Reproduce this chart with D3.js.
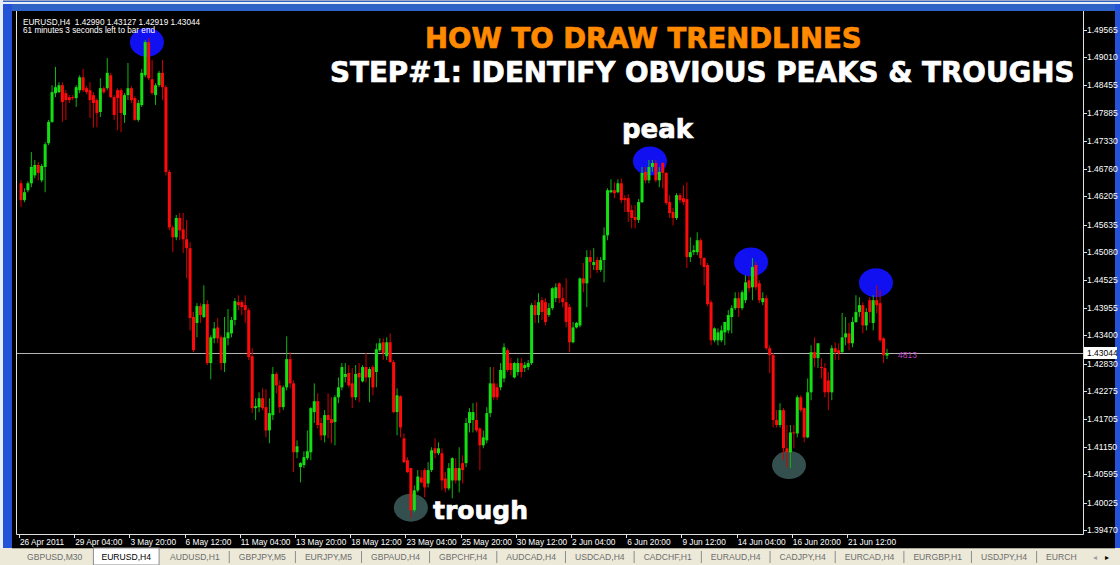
<!DOCTYPE html>
<html>
<head>
<meta charset="utf-8">
<script src="https://cdn.jsdelivr.net/npm/d3@7"></script>
<style>
  body { margin: 0; background: #ece9d8; }
  svg { display: block; }
</style>
</head>
<body>
<div id="viz"></div>
<script>
// EURUSD H4 bars (26 Apr - 23 Jun 2011)
var opens = [
  1.4647,1.4613,1.4633,1.4647,1.4663,1.4684,1.4653,1.4680,1.4728,1.4771,
  1.4829,1.4831,1.4845,1.4829,1.4821,1.4821,1.4819,1.4835,1.4861,1.4839,
  1.4835,1.4825,1.4815,1.4791,1.4839,1.4839,1.4865,1.4821,1.4835,1.4835,
  1.4785,1.4825,1.4839,1.4819,1.4775,1.4805,1.4865,1.4932,1.4857,1.4825,
  1.4845,1.4870,1.4841,
  1.4670,1.4558,1.4538,1.4577,1.4554,1.4534,1.4516,1.4377,1.4365,1.4399,
  1.4377,1.4403,1.4284,1.4334,1.4356,1.4336,1.4284,1.4334,1.4344,1.4371,
  1.4407,1.4407,1.4401,1.4391,1.4298,1.4193,1.4195,1.4213,1.4195,1.4148,
  1.4179,1.4262,1.4239,1.4195,1.4235,1.4292,1.4243,1.4104,1.4074,1.4078,
  1.4092,1.4104,1.4185,1.4207,1.4163,1.4138,1.4179,1.4171,1.4165,1.4215,
  1.4235,1.4256,1.4264,1.4243,1.4215,1.4264,1.4247,1.4276,1.4255,1.4276,
  1.4266,1.4310,1.4326,1.4298,1.4326,1.4286,1.4185,1.4217,1.4132,1.4088,
  1.4072,1.3987,1.4027,1.4053,1.4068,1.4041,1.4068,1.4112,1.4102,1.4102,
  1.4051,1.4031,1.4047,1.4072,1.4047,1.4082,1.4082,1.4163,1.4169,1.4169,
  1.4152,1.4118,1.4128,1.4183,1.4243,1.4235,1.4235,1.4253,1.4310,1.4284,
  1.4255,1.4266,1.4284,1.4274,1.4276,1.4284,1.4401,1.4381,1.4411,1.4407,
  1.4381,1.4395,1.4415,1.4445,1.4415,1.4407,1.4397,1.4326,1.4356,1.4360,
  1.4455,1.4445,1.4498,1.4482,1.4492,
  1.4472,1.4492,1.4542,1.4629,1.4633,1.4629,1.4647,1.4617,1.4617,1.4593,
  1.4579,1.4573,1.4609,1.4670,1.4653,1.4680,1.4688,1.4653,1.4688,1.4668,
  1.4609,1.4589,1.4577,1.4623,1.4617,1.4615,1.4498,1.4508,1.4508,1.4532,
  1.4496,1.4482,1.4407,1.4330,1.4330,1.4330,1.4346,1.4350,1.4377,1.4395,
  1.4415,1.4395,1.4411,1.4451,1.4437,1.4482,1.4445,1.4407,1.4415,1.4314,
  1.4300,1.4169,1.4159,1.4189,1.4112,1.4104,1.4144,1.4142,1.4215,1.4193,
  1.4134,1.4225,1.4306,1.4294,1.4276,1.4274,1.4249,1.4225,1.4314,1.4310,
  1.4306,1.4336,1.4344,1.4324,1.4367,1.4387,1.4401,1.4360,1.4411,1.4365,
  1.4411,1.4405,1.4334,1.42990
];
var highs = [
  1.4653,1.4637,1.4651,1.4710,1.4694,1.4690,1.4686,1.4730,1.4775,1.4845,
  1.4882,1.4851,1.4851,1.4835,1.4825,1.4825,1.4845,1.4865,1.4878,1.4843,
  1.4851,1.4831,1.4819,1.4859,1.4843,1.4900,1.4870,1.4825,1.4839,1.4839,
  1.4829,1.4890,1.4843,1.4823,1.4815,1.4878,1.4936,1.4940,1.4896,1.4849,
  1.4874,1.4896,1.4845,
  1.4674,1.4562,1.4583,1.4587,1.4587,1.4573,1.4528,1.4387,1.4405,1.4405,
  1.4441,1.4411,1.4340,1.4367,1.4375,1.4340,1.4377,1.4393,1.4377,1.4415,
  1.4421,1.4411,1.4421,1.4395,1.4314,1.4213,1.4225,1.4233,1.4231,1.4213,
  1.4276,1.4266,1.4249,1.4239,1.4338,1.4306,1.4249,1.4128,1.4084,1.4106,
  1.4148,1.4195,1.4243,1.4223,1.4173,1.4189,1.4223,1.4215,1.4219,1.4255,
  1.4284,1.4284,1.4280,1.4274,1.4280,1.4284,1.4280,1.4304,1.4276,1.4280,
  1.4324,1.4334,1.4334,1.4336,1.4344,1.4290,1.4233,1.4219,1.4142,1.4094,
  1.4072,1.4037,1.4068,1.4068,1.4072,1.4084,1.4114,1.4132,1.4124,1.4112,
  1.4064,1.4082,1.4094,1.4092,1.4114,1.4098,1.4173,1.4193,1.4203,1.4205,
  1.4154,1.4148,1.4195,1.4276,1.4276,1.4243,1.4284,1.4324,1.4314,1.4294,
  1.4286,1.4294,1.4294,1.4286,1.4290,1.4405,1.4411,1.4425,1.4417,1.4415,
  1.4405,1.4437,1.4445,1.4447,1.4437,1.4455,1.4403,1.4367,1.4367,1.4457,
  1.4486,1.4512,1.4512,1.4516,1.4498,
  1.4498,1.4558,1.4637,1.4655,1.4649,1.4655,1.4657,1.4623,1.4625,1.4603,
  1.4603,1.4615,1.4680,1.4680,1.4694,1.4694,1.4694,1.4680,1.4690,1.4670,
  1.4623,1.4597,1.4627,1.4627,1.4643,1.4649,1.4538,1.4522,1.4548,1.4536,
  1.4498,1.4486,1.4411,1.4356,1.4354,1.4360,1.4367,1.4391,1.4401,1.4427,
  1.4427,1.4431,1.4461,1.4461,1.4496,1.4488,1.4451,1.4427,1.4421,1.4320,
  1.4304,1.4189,1.4203,1.4193,1.4159,1.4159,1.4159,1.4219,1.4219,1.4195,
  1.4253,1.4320,1.4336,1.4324,1.4294,1.4284,1.4266,1.4320,1.4326,1.4324,
  1.4385,1.4377,1.4365,1.4377,1.4421,1.4417,1.4407,1.4395,1.4417,1.4421,
  1.4441,1.4431,1.4336,1.43127
];
var lows = [
  1.4599,1.4609,1.4629,1.4639,1.4657,1.4653,1.4649,1.4629,1.4724,1.4769,
  1.4821,1.4829,1.4771,1.4775,1.4809,1.4815,1.4801,1.4829,1.4831,1.4827,
  1.4779,1.4760,1.4760,1.4781,1.4827,1.4835,1.4819,1.4775,1.4754,1.4750,
  1.4769,1.4815,1.4809,1.4773,1.4771,1.4801,1.4861,1.4855,1.4825,1.4805,
  1.4841,1.4815,1.4663,
  1.4552,1.4508,1.4532,1.4532,1.4506,1.4455,1.4350,1.4306,1.4336,1.4365,
  1.4375,1.4280,1.4251,1.4324,1.4324,1.4270,1.4266,1.4320,1.4336,1.4360,
  1.4391,1.4381,1.4365,1.4290,1.4183,1.4169,1.4185,1.4189,1.4134,1.4122,
  1.4169,1.4223,1.4183,1.4189,1.4229,1.4233,1.4064,1.4092,1.4043,1.4072,
  1.4088,1.4088,1.4163,1.4152,1.4128,1.4124,1.4132,1.4122,1.4118,1.4203,
  1.4229,1.4245,1.4235,1.4193,1.4209,1.4205,1.4245,1.4245,1.4205,1.4219,
  1.4235,1.4306,1.4290,1.4290,1.4284,1.4183,1.4138,1.4134,1.4082,1.4062,
  1.3971,1.3983,1.4023,1.4041,1.4013,1.4033,1.4064,1.4092,1.4098,1.4027,
  1.4023,1.4027,1.4011,1.4041,1.4023,1.4041,1.4074,1.4144,1.4144,1.4144,
  1.4068,1.4112,1.4122,1.4175,1.4209,1.4209,1.4229,1.4245,1.4266,1.4259,
  1.4253,1.4259,1.4255,1.4266,1.4270,1.4280,1.4365,1.4365,1.4371,1.4360,
  1.4377,1.4391,1.4407,1.4405,1.4397,1.4356,1.4306,1.4324,1.4354,1.4356,
  1.4427,1.4397,1.4455,1.4472,1.4466,
  1.4468,1.4447,1.4532,1.4627,1.4617,1.4627,1.4607,1.4589,1.4569,1.4556,
  1.4556,1.4567,1.4607,1.4647,1.4647,1.4670,1.4649,1.4639,1.4637,1.4603,
  1.4577,1.4562,1.4573,1.4607,1.4603,1.4476,1.4488,1.4502,1.4502,1.4482,
  1.4441,1.4399,1.4320,1.4326,1.4320,1.4326,1.4320,1.4344,1.4344,1.4391,
  1.4377,1.4391,1.4405,1.4427,1.4411,1.4431,1.4405,1.4401,1.4310,1.4264,
  1.4154,1.4154,1.4154,1.4088,1.4074,1.4072,1.4112,1.4134,1.4185,1.4124,
  1.4132,1.4209,1.4276,1.4274,1.4253,1.4215,1.4189,1.4209,1.4290,1.4290,
  1.4304,1.4320,1.4310,1.4316,1.4365,1.4377,1.4344,1.4350,1.4365,1.4350,
  1.4385,1.4326,1.4284,1.42919
];
var closes = [
  1.4613,1.4629,1.4647,1.4680,1.4684,1.4668,1.4682,1.4726,1.4771,1.4831,
  1.4841,1.4845,1.4811,1.4815,1.4815,1.4819,1.4841,1.4861,1.4835,1.4831,
  1.4815,1.4809,1.4789,1.4839,1.4831,1.4870,1.4821,1.4785,1.4819,1.4789,
  1.4825,1.4839,1.4815,1.4775,1.4809,1.4870,1.4932,1.4859,1.4829,1.4845,
  1.4870,1.4841,1.4670,
  1.4558,1.4538,1.4577,1.4552,1.4534,1.4516,1.4375,1.4310,1.4399,1.4381,
  1.4403,1.4284,1.4336,1.4354,1.4334,1.4284,1.4336,1.4346,1.4371,1.4409,
  1.4401,1.4397,1.4391,1.4296,1.4193,1.4197,1.4213,1.4193,1.4148,1.4183,
  1.4262,1.4239,1.4195,1.4235,1.4292,1.4243,1.4104,1.4116,1.4082,1.4094,
  1.4106,1.4193,1.4207,1.4159,1.4138,1.4179,1.4169,1.4163,1.4215,1.4235,
  1.4276,1.4262,1.4239,1.4215,1.4262,1.4255,1.4276,1.4255,1.4272,1.4235,
  1.4312,1.4324,1.4304,1.4326,1.4286,1.4185,1.4219,1.4154,1.4084,1.4064,
  1.3987,1.4027,1.4055,1.4043,1.4033,1.4068,1.4108,1.4102,1.4112,1.4047,
  1.4031,1.4072,1.4092,1.4047,1.4072,1.4068,1.4163,1.4185,1.4185,1.4148,
  1.4118,1.4134,1.4183,1.4243,1.4215,1.4215,1.4270,1.4316,1.4270,1.4270,
  1.4284,1.4284,1.4266,1.4280,1.4284,1.4401,1.4381,1.4407,1.4387,1.4367,
  1.4395,1.4435,1.4437,1.4415,1.4407,1.4367,1.4326,1.4356,1.4365,1.4455,
  1.4445,1.4498,1.4488,1.4488,1.4472,
  1.4492,1.4542,1.4633,1.4633,1.4627,1.4647,1.4613,1.4613,1.4589,1.4577,
  1.4573,1.4609,1.4668,1.4653,1.4680,1.4688,1.4653,1.4670,1.4668,1.4607,
  1.4587,1.4577,1.4623,1.4613,1.4609,1.4498,1.4508,1.4512,1.4532,1.4496,
  1.4478,1.4403,1.4330,1.4354,1.4346,1.4350,1.4367,1.4381,1.4395,1.4415,
  1.4395,1.4427,1.4447,1.4435,1.4478,1.4437,1.4411,1.4415,1.4314,1.4300,
  1.4169,1.4159,1.4189,1.4112,1.4104,1.4144,1.4142,1.4215,1.4189,1.4134,
  1.4225,1.4306,1.4294,1.4324,1.4274,1.4225,1.4225,1.4314,1.4306,1.4304,
  1.4336,1.4344,1.4324,1.4367,1.4387,1.4401,1.4360,1.4387,1.4387,1.4411,
  1.4401,1.4330,1.4300,1.43044
];

var priceTicks = [1.49565,1.49010,1.48455,1.47885,1.47330,1.46760,1.46205,1.45635,1.45080,
  1.44525,1.43955,1.43400,1.42830,1.42275,1.41705,1.41150,1.40595,1.40025,1.39470];
var dateLabels = ["26 Apr 2011","29 Apr 04:00","3 May 20:00","6 May 12:00","11 May 04:00",
  "13 May 20:00","18 May 12:00","23 May 04:00","25 May 20:00","30 May 12:00","2 Jun 04:00",
  "6 Jun 20:00","9 Jun 12:00","14 Jun 04:00","16 Jun 20:00","21 Jun 12:00"];
var dateBars = [0,16,32,48,64,80,96,112,128,144,160,176,192,208,224,240];

// hand drawn markers (bar position, price)
var peakBars = [36.5, 182.3, 211.6, 247.8];
var peakPrices = [1.4932, 1.4692, 1.4488, 1.4446];
var troughBars = [113, 222.6];
var troughPrices = [1.3992, 1.4078];

var tabs = ["GBPUSD,M30","EURUSD,H4","AUDUSD,H1","GBPJPY,M5","EURJPY,M5","GBPAUD,H4",
  "GBPCHF,H4","AUDCAD,H4","USDCAD,H4","CADCHF,H1","EURAUD,H4","CADJPY,H4","EURCAD,H4",
  "EURGBP,H1","USDJPY,H4","EURCH"];
var activeTab = 1;

var width = 1120, height = 565;
var n = closes.length;
var last = closes[n - 1];

var svg = d3.select("#viz").append("svg")
  .attr("width", width)
  .attr("height", height);

var x = d3.scaleLinear().domain([0, n - 1]).range([21, 887]);
var y = d3.scaleLinear().domain([1.39470, 1.49565]).range([530, 30]);

var smallFont = "Liberation Sans, Arial, sans-serif";
var bigFont = "DejaVu Sans, Verdana, sans-serif";

// window chrome
svg.append("rect").attr("x", 0).attr("y", 0).attr("width", width).attr("height", height).attr("fill", "#ece9d8");
svg.append("rect").attr("x", 0).attr("y", 0).attr("width", width).attr("height", 11).attr("fill", "#2f62c6");
svg.append("rect").attr("x", 0).attr("y", 0).attr("width", width).attr("height", 1).attr("fill", "#9aa8c8");
svg.append("rect").attr("x", 0).attr("y", 2).attr("width", width).attr("height", 2).attr("fill", "#e8eef8");
svg.append("rect").attr("x", 0).attr("y", 0).attr("width", 3).attr("height", 548).attr("fill", "#e8eef8");
svg.append("rect").attr("x", 3).attr("y", 4).attr("width", 9).attr("height", 544).attr("fill", "#2453d8");
svg.append("rect").attr("x", 1115).attr("y", 4).attr("width", 5).attr("height", 544).attr("fill", "#2453d8");

// chart black area
svg.append("rect").attr("x", 12).attr("y", 11).attr("width", 1103).attr("height", 537).attr("fill", "#000");

// plot frame
var frame = svg.append("g").attr("stroke", "#e0e0e0").attr("stroke-width", 1).attr("fill", "none");
frame.append("path").attr("d", "M16.5,11 V534.5 H1083.5 V11");

// markers under candles
svg.selectAll(".peak")
  .data(peakBars)
  .join("ellipse")
  .attr("class", "peak")
  .attr("cx", function(d) { return x(d); })
  .attr("cy", function(d, i) { return y(peakPrices[i]); })
  .attr("rx", 17).attr("ry", 14.5)
  .attr("fill", "#1010f0");

svg.selectAll(".trough")
  .data(troughBars)
  .join("ellipse")
  .attr("class", "trough")
  .attr("cx", function(d) { return x(d); })
  .attr("cy", function(d, i) { return y(troughPrices[i]); })
  .attr("rx", 17).attr("ry", 14)
  .attr("fill", "#34504e");

// current price line
svg.append("line")
  .attr("x1", 17).attr("x2", 1083)
  .attr("y1", Math.round(y(last)) + 0.5).attr("y2", Math.round(y(last)) + 0.5)
  .attr("stroke", "#b4b4b4").attr("stroke-width", 1);

// candles
var bars = d3.range(n);
var candles = svg.append("g");
candles.selectAll(".wick")
  .data(bars)
  .join("line")
  .attr("class", "wick")
  .attr("x1", function(i) { return x(i); })
  .attr("x2", function(i) { return x(i); })
  .attr("y1", function(i) { return y(highs[i]); })
  .attr("y2", function(i) { return y(lows[i]); })
  .attr("stroke", function(i) { return closes[i] >= opens[i] ? "#11b511" : "#d00000"; })
  .attr("stroke-width", 1);

var bodyW = 3;
candles.selectAll(".body")
  .data(bars)
  .join("rect")
  .attr("class", "body")
  .attr("x", function(i) { return x(i) - bodyW / 2; })
  .attr("y", function(i) { return y(Math.max(opens[i], closes[i])); })
  .attr("width", bodyW)
  .attr("height", function(i) { return Math.max(1, Math.abs(y(opens[i]) - y(closes[i]))); })
  .attr("fill", function(i) { return closes[i] >= opens[i] ? "#12e012" : "#ff0a0a"; });

// price axis
var pa = svg.append("g");
pa.selectAll("line")
  .data(priceTicks)
  .join("line")
  .attr("x1", 1083).attr("x2", 1087)
  .attr("y1", function(d) { return Math.round(y(d)) + 0.5; })
  .attr("y2", function(d) { return Math.round(y(d)) + 0.5; })
  .attr("stroke", "#e0e0e0");
pa.selectAll("text")
  .data(priceTicks)
  .join("text")
  .attr("x", 1087)
  .attr("y", function(d) { return y(d) + 3; })
  .attr("font-family", smallFont).attr("font-size", 8.5)
  .attr("fill", "#fff")
  .text(function(d) { return d.toFixed(5); });

// current price tag
svg.append("rect")
  .attr("x", 1084).attr("y", y(last) - 6).attr("width", 33).attr("height", 12)
  .attr("fill", "#fff");
svg.append("text")
  .attr("x", 1087).attr("y", y(last) + 3)
  .attr("font-family", smallFont).attr("font-size", 8.5)
  .attr("fill", "#000")
  .text(last.toFixed(5));

// time axis
var ta = svg.append("g");
ta.selectAll("line")
  .data(dateBars)
  .join("line")
  .attr("x1", function(d) { return Math.round(x(d) - 2) + 0.5; })
  .attr("x2", function(d) { return Math.round(x(d) - 2) + 0.5; })
  .attr("y1", 534).attr("y2", 538)
  .attr("stroke", "#e0e0e0");
ta.selectAll("text")
  .data(dateLabels)
  .join("text")
  .attr("x", function(d, i) { return x(dateBars[i]) - 1; })
  .attr("y", 545)
  .attr("font-family", smallFont).attr("font-size", 8.3)
  .attr("fill", "#fff")
  .text(function(d) { return d; });

// header info
svg.append("text")
  .attr("x", 23).attr("y", 24.5)
  .attr("font-family", smallFont).attr("font-size", 8.2).attr("fill", "#fff")
  .attr("xml:space", "preserve")
  .text("EURUSD,H4  " + opens[n - 1].toFixed(5) + " " + highs[n - 1].toFixed(5) + " " + lows[n - 1].toFixed(5) + " " + last.toFixed(5));
svg.append("text")
  .attr("x", 23).attr("y", 33)
  .attr("font-family", smallFont).attr("font-size", 8.2).attr("fill", "#fff")
  .text("61 minutes 3 seconds left to bar end");

svg.append("text")
  .attr("x", 898).attr("y", 358)
  .attr("font-family", smallFont).attr("font-size", 8.5).attr("fill", "#c040c0")
  .text("4813");

// annotations
function bigText(tx, ty, size, color, str) {
  svg.append("text")
    .attr("x", tx).attr("y", ty)
    .attr("font-family", bigFont).attr("font-weight", "bold").attr("font-size", size)
    .attr("fill", color).attr("stroke", color).attr("stroke-width", 0.7)
    .text(str);
}
bigText(425, 48, 27.55, "#ff8a00", "HOW TO DRAW TRENDLINES");
bigText(330, 82, 27.75, "#fff", "STEP#1: IDENTIFY OBVIOUS PEAKS & TROUGHS");
bigText(622, 138, 26, "#fff", "peak");
bigText(433, 519, 25, "#fff", "trough");

// symbol tabs
var tabBar = svg.append("g");
tabBar.append("rect").attr("x", 12).attr("y", 548).attr("width", 1103).attr("height", 17).attr("fill", "#ece9d8");
tabBar.append("line").attr("x1", 12).attr("x2", 1115).attr("y1", 548.5).attr("y2", 548.5).attr("stroke", "#aca899");
var tx = 27;
tabs.forEach(function(t, i) {
  var label = tabBar.append("text")
    .attr("x", tx).attr("y", 560)
    .attr("font-family", smallFont).attr("font-size", 8.6)
    .attr("fill", i === activeTab ? "#000" : "#6d6d6d")
    .text(t);
  var w = label.node().getComputedTextLength();
  if (i === activeTab) {
    tabBar.insert("rect", "text")
      .attr("x", tx - 8).attr("y", 548).attr("width", w + 16).attr("height", 17)
      .attr("fill", "#fff").attr("stroke", "#8c8c8c");
  } else if (i > activeTab + 1) {
    tabBar.append("line")
      .attr("x1", tx - 9.5).attr("x2", tx - 9.5)
      .attr("y1", 551).attr("y2", 563)
      .attr("stroke", "#8c8c8c");
  }
  tx += w + 19;
});
tabBar.append("text").attr("x", 1093).attr("y", 560)
  .attr("font-family", smallFont).attr("font-size", 8).attr("fill", "#a0a0a0").text("\u25C2");
tabBar.append("text").attr("x", 1105).attr("y", 560)
  .attr("font-family", smallFont).attr("font-size", 8).attr("fill", "#000").text("\u25B8");
</script>
</body>
</html>
